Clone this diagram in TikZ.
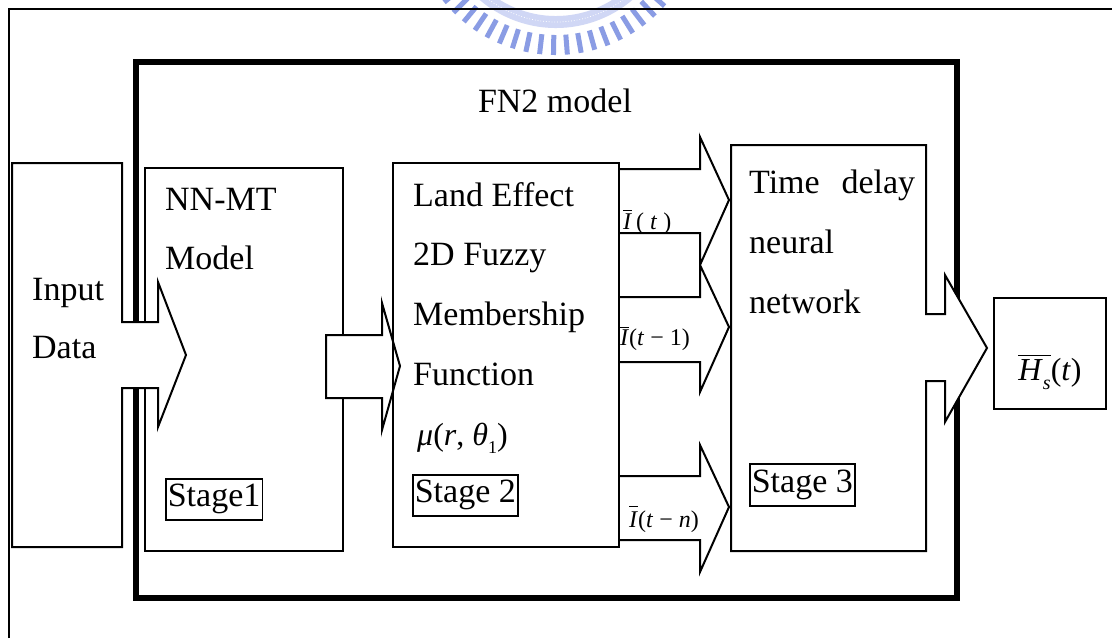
\documentclass[tikz,border=0pt]{standalone}
\usepackage{fontspec}
\setmainfont{Liberation Serif}
% bar over a piece of text
\newcommand\myoverbar[2][2.5pt]{\vbox{\hrule height 1.1pt\kern #1\hbox{#2}}}
\definecolor{wmdark}{RGB}{138,156,228}
\definecolor{wmlight}{RGB}{208,215,245}
\begin{document}
\begin{tikzpicture}[x=1pt,y=-1pt,
  boxline/.style={line width=2pt, line join=miter},
  frameline/.style={line width=6pt},
  lbl/.style={inner sep=0pt, anchor=base west, font=\fontsize{34}{40}\selectfont},
  sig/.style={inner sep=0pt, anchor=base west, font=\fontsize{24}{28}\selectfont},
  stagebox/.style={draw, line width=1.6pt, inner xsep=2pt, inner ysep=0pt,
    minimum height=41pt, anchor=north west, font=\fontsize{34}{40}\selectfont}]
\fill[white] (0,0) rectangle (1112,638);
\useasboundingbox (0,0) rectangle (1112,638);
\clip (0,0) rectangle (1112,638);

% emblem at the top edge
\coordinate (emb) at (556,-90);
\draw[wmlight, line width=12pt] (emb) ++(26:112) arc[start angle=26, end angle=154, radius=112];
\draw[white, line width=0.8pt, dotted] (emb) ++(26:112) arc[start angle=26, end angle=154, radius=112];
\foreach \a in {36,41.5,...,145}
  \draw[wmdark, line width=5pt] (emb) ++(\a:125) -- ++(\a:20);

% outer frame
\coordinate (ofa) at (9,638);
\coordinate (ofb) at (9,9);
\coordinate (ofc) at (1112,9);
\draw[boxline] (ofa) -- (ofb) -- (ofc);

% FN2 model frame
\draw[frameline] (136,62) rectangle (957,598);
\node[lbl, anchor=base] (fn2) at (555,112) {FN2 model};

% stage 1 box
\draw[boxline, fill=white] (145,168) rectangle (343,551);

% input block with its arrow
\draw[boxline, fill=white] (12,163) -- (122,163) -- (122,322) -- (158,322)
  -- (158,282) -- (186,355) -- (158,427) -- (158,388) -- (122,388)
  -- (122,547) -- (12,547) -- cycle;

% stage 1 -> stage 2 arrow
\draw[boxline, fill=white] (326,335) -- (382,335) -- (382,303) -- (400,366)
  -- (382,430) -- (382,398) -- (326,398) -- cycle;

% stage 2 box
\draw[boxline] (393,163) rectangle (619,547);

% stage 2 -> stage 3 arrows
\draw[boxline] (619,169) -- (700,169) -- (700,137) -- (729,200) -- (700,265)
  -- (700,233) -- (619,233);
\draw[boxline] (619,297) -- (700,297) -- (700,265) -- (729,327) -- (700,392)
  -- (700,362) -- (619,362);
\draw[boxline] (619,476) -- (700,476) -- (700,445) -- (729,507) -- (700,572)
  -- (700,540) -- (619,540);

% stage 3 block with the output arrow
\draw[boxline, fill=white] (731,145) -- (926,145) -- (926,314) -- (945,314)
  -- (945,275) -- (987,348) -- (945,422) -- (945,381) -- (926,381)
  -- (926,551) -- (731,551) -- cycle;

% output box
\draw[boxline] (994,298) rectangle (1106,409);

% texts
\node[lbl] (in1) at (32,300) {Input};
\node[lbl] (in2) at (32,358) {Data};

\node[lbl] (nn1) at (165,210) {NN-MT};
\node[lbl] (nn2) at (165,269) {Model};
\node[stagebox] (st1) at (165,478) {Stage1};

\node[lbl] (le1) at (413,206) {Land Effect};
\node[lbl] (le2) at (413,265) {2D Fuzzy};
\node[lbl] (le3) at (413,325) {Membership};
\node[lbl] (le4) at (413,385) {Function};
\node[lbl, font=\fontsize{32}{38}\selectfont] (mu) at (417,445)
  {\textit{μ}(\textit{r}, \textit{θ}\raisebox{-0.25em}{\fontsize{18}{20}\selectfont 1})};
\node[stagebox] (st2) at (412,474) {Stage 2};

\node[lbl] (td1) at (749,193) {\hbox to 166pt{Time\hfill delay}};
\node[lbl] (td2) at (749,253) {neural};
\node[lbl] (td3) at (749,313) {network};
\node[stagebox, minimum height=42pt] (st3) at (749,463) {Stage 3};

\node[sig] (s1) at (623,229) {\myoverbar{\textit{I}}\,( \textit{t} )};
\node[sig] (s2) at (620,345) {\myoverbar[1.5pt]{\textit{I}}(\textit{t} − 1)};
\node[sig] (s3) at (629,527) {\myoverbar[4pt]{\textit{I}}(\textit{t} − \textit{n})};

\node[lbl, anchor=base, font=\fontsize{32}{38}\selectfont] (hs) at (1050,380)
  {\myoverbar[3pt]{\textit{H}\raisebox{-0.3em}{\fontsize{20}{22}\selectfont\textit{s}}}(\textit{t})};
\end{tikzpicture}
\end{document}
